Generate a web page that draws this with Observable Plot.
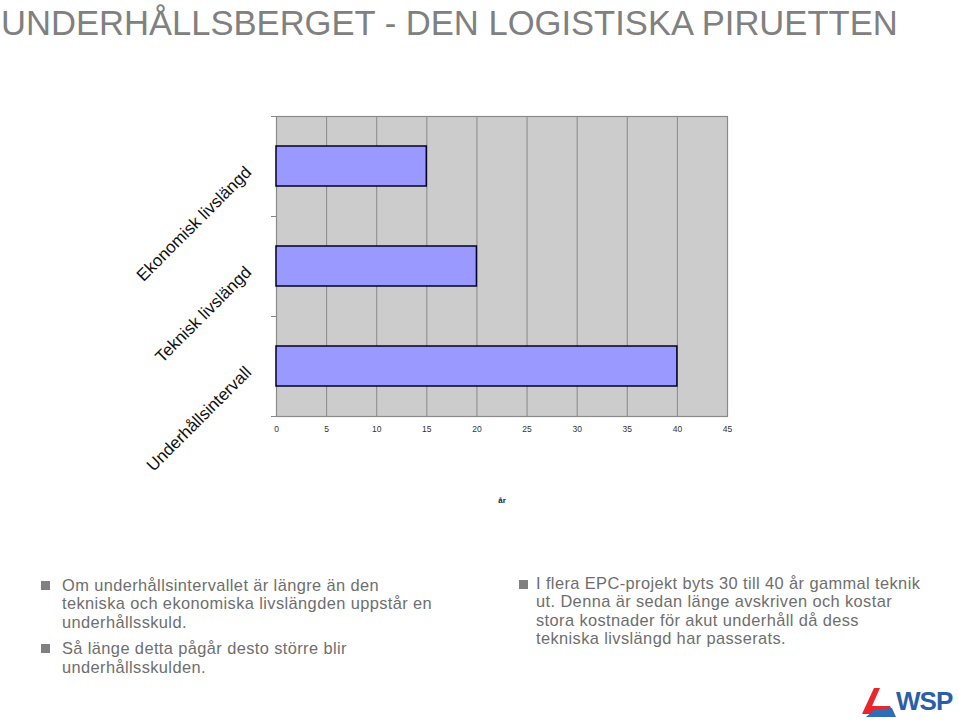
<!DOCTYPE html>
<html>
<head>
<meta charset="utf-8">
<script src="https://cdn.jsdelivr.net/npm/d3@7"></script>
<script src="https://cdn.jsdelivr.net/npm/@observablehq/plot@0.6"></script>
<style>
  html, body { margin: 0; padding: 0; background: #fff; }
  body { width: 959px; height: 721px; position: relative; overflow: hidden; font-family: "Liberation Sans", Arial, sans-serif; }
  #title { position: absolute; left: 1px; top: 3px; font-size: 34.6px; line-height: 40px; color: #808080; white-space: nowrap; }
  #chart { position: absolute; left: 0; top: 0; }
  .col { position: absolute; font-size: 16.4px; line-height: 18.4px; letter-spacing: 0.4px; color: #6e6e6e; white-space: nowrap; }
  .col p { margin: 0 0 8px 0; position: relative; }
  .col p .b { position: absolute; width: 9px; height: 9px; background: #808080; }
  #left { left: 62px; top: 576px; }
  #right { left: 536px; top: 574px; }
  #logo { position: absolute; left: 860px; top: 684px; }
</style>
</head>
<body>
<div id="title">UNDERHÅLLSBERGET - DEN LOGISTISKA PIRUETTEN</div>
<div id="chart"></div>
<div class="col" id="left">
  <p><span class="b" style="left:-21px;top:5px"></span>Om underhållsintervallet är längre än den<br>tekniska och ekonomiska livslängden uppstår en<br>underhållsskuld.</p>
  <p><span class="b" style="left:-21px;top:5px"></span>Så länge detta pågår desto större blir<br>underhållsskulden.</p>
</div>
<div class="col" id="right">
  <p><span class="b" style="left:-17px;top:6px"></span>I flera EPC-projekt byts 30 till 40 år gammal teknik<br>ut. Denna är sedan länge avskriven och kostar<br>stora kostnader för akut underhåll då dess<br>tekniska livslängd har passerats.</p>
</div>
<div id="logo">
  <svg width="99" height="34" viewBox="0 0 99 34">
    <polygon points="2,30 14,4 20,4 12,22 30,22 34,30" fill="#e8262b"/>
    <polygon points="6,33 14,26 32,24 36,33" fill="#2f6db5"/>
    <text x="36" y="26" font-family="Liberation Sans, Arial, sans-serif" font-weight="bold" font-size="26" fill="#2a5ea8" letter-spacing="-1">WSP</text>
  </svg>
</div>
<script>
const categories = ["Ekonomisk livslängd", "Teknisk livslängd", "Underhållsintervall"];
const values = [15, 20, 40];
const xTicks = [0, 5, 10, 15, 20, 25, 30, 35, 40, 45];
const xLabel = "år";

const data = categories.map((c, i) => ({category: c, value: values[i]}));

const chart = Plot.plot({
  width: 959,
  height: 520,
  marginLeft: 276,
  marginRight: 232,
  marginTop: 116,
  marginBottom: 104,
  style: {fontFamily: "Liberation Sans, Arial, sans-serif", background: "transparent"},
  x: {domain: [0, 45], ticks: xTicks},
  y: {domain: categories, paddingInner: 0.6, paddingOuter: 0.3, align: 0.5},
  marks: [
    Plot.frame({fill: "#cccccc", stroke: null}),
    Plot.ruleX(xTicks, {stroke: "#888888", strokeWidth: 1}),
    Plot.frame({stroke: "#8a8a8a", strokeWidth: 1.2}),
    Plot.ruleY(categories, {y: d => d, x1: -0.5, x2: 0, dy: -50, stroke: "#888888", clip: false}),
    Plot.ruleY(categories.slice(-1), {y: d => d, x1: -0.5, x2: 0, dy: 50, stroke: "#888888", clip: false}),
    Plot.barX(data, {y: "category", x: "value", fill: "#9999ff", stroke: "#000022", strokeWidth: 1.5}),
    Plot.axisX({ticks: xTicks, tickSize: 0, tickPadding: 9, fontSize: 8.5, color: "#333", label: null}),
    Plot.axisY({ticks: [], label: null}),
    Plot.text(categories, {
      y: d => d, frameAnchor: "left", rotate: -45, textAnchor: "end",
      dx: -28, dy: 3, fontSize: 17, fill: "#111"
    }),
    Plot.text([xLabel], {frameAnchor: "bottom", dy: 86, fontSize: 8, fontWeight: "bold", fill: "#222", letterSpacing: 2})
  ]
});
document.getElementById("chart").appendChild(chart);
</script>
</body>
</html>
